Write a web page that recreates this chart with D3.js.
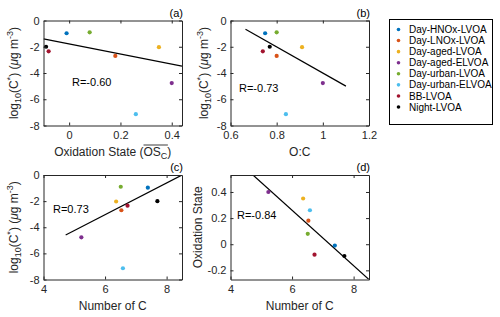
<!DOCTYPE html>
<html><head><meta charset="utf-8">
<script src="https://cdn.jsdelivr.net/npm/d3@7"></script>
<style>body{margin:0;background:#fff}svg{display:block;font-family:"Liberation Sans",Arial,sans-serif}</style>
</head><body><svg id="c" width="500" height="317"></svg>
<script>
const categories = ["Day-HNOx-LVOA","Day-LNOx-LVOA","Day-aged-LVOA","Day-aged-ELVOA","Day-urban-LVOA","Day-urban-ELVOA","BB-LVOA","Night-LVOA"];
const colors = ["#0072BD","#D95319","#EDB120","#7E2F8E","#77AC30","#4DBEEE","#A2142F","#000000"];
const osc  = [-0.01, 0.18, 0.35, 0.40, 0.08, 0.26, -0.08, -0.09];
const oc   = [0.75, 0.80, 0.91, 1.00, 0.80, 0.84, 0.74, 0.77];
const logC = [-0.97, -2.7, -2.03, -4.77, -0.9, -7.14, -2.35, -2.0];
const nC   = [7.39, 6.53, 6.36, 5.23, 6.51, 6.58, 6.73, 7.70];
// fit lines: [[x0,y0],[x1,y1]]
const fitA = [[-0.1,-1.40],[0.44,-3.47]];
const fitB = [[0.665,-0.66],[1.10,-5.0]];
const fitC = [[4.72,-4.6],[8.5,0]];
const fitD = [[4.73,0.53],[8.5,-0.27]];
const rLabels = ["R=-0.60","R=-0.73","R=0.73","R=-0.84"];
const panelLabels = ["(a)","(b)","(c)","(d)"];
const ticksLogC = [-8,-6,-4,-2,0];
const ticksOSC = [0,0.2,0.4];
const ticksOC = [0.6,0.8,1,1.2];
const ticksNC = [4,6,8];
const ticksOS = [-0.2,0,0.2,0.4];

const svg = d3.select("#c");
const axCol = "#262626";
const fmt = d => (d<0?"-":"") + Math.abs(d);

const panels = [
  {x:[43.5,182], y:[20.5,125.5], xd:[-0.1,0.44], yd:[-8,0], xs:osc, ys:logC, fit:fitA, xt:ticksOSC, yt:ticksLogC, r:[72,82], ylab:"logc", ylx:14, xlab:"osc"},
  {x:[230.5,369], y:[20.5,125.5], xd:[0.6,1.2], yd:[-8,0], xs:oc, ys:logC, fit:fitB, xt:ticksOC, yt:ticksLogC, r:[239,88], ylab:"logc", ylx:204, xlab:"O:C"},
  {x:[43.5,182], y:[175,279.5], xd:[4,8.5], yd:[-8,0], xs:nC, ys:logC, fit:fitC, xt:ticksNC, yt:ticksLogC, r:[53,209], ylab:"logc", ylx:14, xlab:"Number of C"},
  {x:[230.5,369], y:[175,279.5], xd:[4,8.5], yd:[-0.27,0.53], xs:nC, ys:osc, fit:fitD, xt:ticksNC, yt:ticksOS, r:[237,215], ylab:"Oxidation State", ylx:198, xlab:"Number of C"}
];

panels.forEach((p,i)=>{
  const xs = d3.scaleLinear().domain(p.xd).range(p.x);
  const ys = d3.scaleLinear().domain(p.yd).range([p.y[1],p.y[0]]);
  const g = svg.append("g");
  const cid = "clip"+i;
  svg.append("clipPath").attr("id",cid).append("rect")
    .attr("x",p.x[0]).attr("y",p.y[0]).attr("width",p.x[1]-p.x[0]).attr("height",p.y[1]-p.y[0]);
  // fit line
  g.append("line").attr("clip-path",`url(#${cid})`)
    .attr("x1",xs(p.fit[0][0])).attr("y1",ys(p.fit[0][1]))
    .attr("x2",xs(p.fit[1][0])).attr("y2",ys(p.fit[1][1]))
    .attr("stroke","#000").attr("stroke-width",1.2);
  // points
  g.selectAll("circle.pt").data(categories).join("circle").attr("class","pt")
    .attr("cx",(d,k)=>xs(p.xs[k])).attr("cy",(d,k)=>ys(p.ys[k])).attr("r",2.1)
    .attr("fill",(d,k)=>colors[k]);
  // axes
  const style = a => { a.selectAll("path,line").attr("stroke",axCol); a.selectAll("text").attr("fill",axCol).style("font-size","11px").style("font-family","'Liberation Sans',Arial,sans-serif"); };
  g.append("g").attr("transform",`translate(0,${p.y[1]})`)
    .call(d3.axisBottom(xs).tickValues(p.xt).tickFormat(fmt).tickSizeInner(-3).tickSizeOuter(0).tickPadding(6)).call(style);
  g.append("g").attr("transform",`translate(0,${p.y[0]})`)
    .call(d3.axisTop(xs).tickValues(p.xt).tickFormat("").tickSizeInner(-3).tickSizeOuter(0)).call(style);
  g.append("g").attr("transform",`translate(${p.x[0]},0)`)
    .call(d3.axisLeft(ys).tickValues(p.yt).tickFormat(fmt).tickSizeInner(-3).tickSizeOuter(0).tickPadding(4)).call(style);
  g.append("g").attr("transform",`translate(${p.x[1]},0)`)
    .call(d3.axisRight(ys).tickValues(p.yt).tickFormat("").tickSizeInner(-3).tickSizeOuter(0)).call(style);
  g.selectAll(".domain").attr("stroke-width",1);
  // R label
  g.append("text").attr("x",p.r[0]).attr("y",p.r[1]+4).attr("font-size","11px").attr("fill","#000").text(rLabels[i]);
  // panel label
  g.append("text").attr("x",p.x[1]+1).attr("y",p.y[0]-4).attr("text-anchor","end").attr("font-size","11px").attr("fill","#000").text(panelLabels[i]);
  // x label
  const xc = (p.x[0]+p.x[1])/2, xly = p.y[1]+30;
  if (p.xlab==="osc") {
    const t = g.append("text").attr("x",xc).attr("y",xly).attr("text-anchor","middle").attr("font-size","12px").attr("fill",axCol);
    t.append("tspan").text("Oxidation State (");
    t.append("tspan").text("OS");
    t.append("tspan").attr("dy",3).attr("font-size","9px").text("C");
    t.append("tspan").attr("dy",-3).text(")");
    const node = t.node();
    const s = node.getStartPositionOfChar(17).x;
    const e = node.getEndPositionOfChar(19).x;
    g.append("line").attr("x1",s).attr("x2",e+0.5).attr("y1",xly-10.5).attr("y2",xly-10.5).attr("stroke",axCol).attr("stroke-width",0.9);
  } else {
    g.append("text").attr("x",xc).attr("y",xly).attr("text-anchor","middle").attr("font-size","12px").attr("fill",axCol).text(p.xlab);
  }
  // y label
  const yc = (p.y[0]+p.y[1])/2;
  const yt = g.append("text").attr("transform",`translate(${p.ylx+4},${yc}) rotate(-90)`).attr("text-anchor","middle").attr("font-size","12px").attr("fill",axCol);
  if (p.ylab==="logc") {
    yt.append("tspan").text("log");
    yt.append("tspan").attr("dy",3).attr("font-size","9px").text("10");
    yt.append("tspan").attr("dy",-3).text("(C");
    yt.append("tspan").attr("dy",-5).attr("font-size","9px").text("*");
    yt.append("tspan").attr("dy",5).text(") (");
    yt.append("tspan").attr("font-style","italic").text("μ");
    yt.append("tspan").text("g m");
    yt.append("tspan").attr("dy",-5).attr("font-size","9px").text("-3");
    yt.append("tspan").attr("dy",5).text(")");
  } else {
    yt.text(p.ylab);
  }
});

// legend
const lg = svg.append("g");
lg.append("rect").attr("x",389.5).attr("y",19.5).attr("width",103).attr("height",105).attr("fill","#fff").attr("stroke","#000").attr("stroke-width",1);
const ly = d3.scalePoint().domain(categories).range([29.5,107]);
lg.selectAll("circle").data(categories).join("circle")
  .attr("cx",398.5).attr("cy",d=>ly(d)).attr("r",1.8).attr("fill",(d,k)=>colors[k]);
lg.selectAll("text").data(categories).join("text")
  .attr("x",409).attr("y",d=>ly(d)+3.6).attr("font-size","10px").attr("fill","#000").text(d=>d);
</script></body></html>
